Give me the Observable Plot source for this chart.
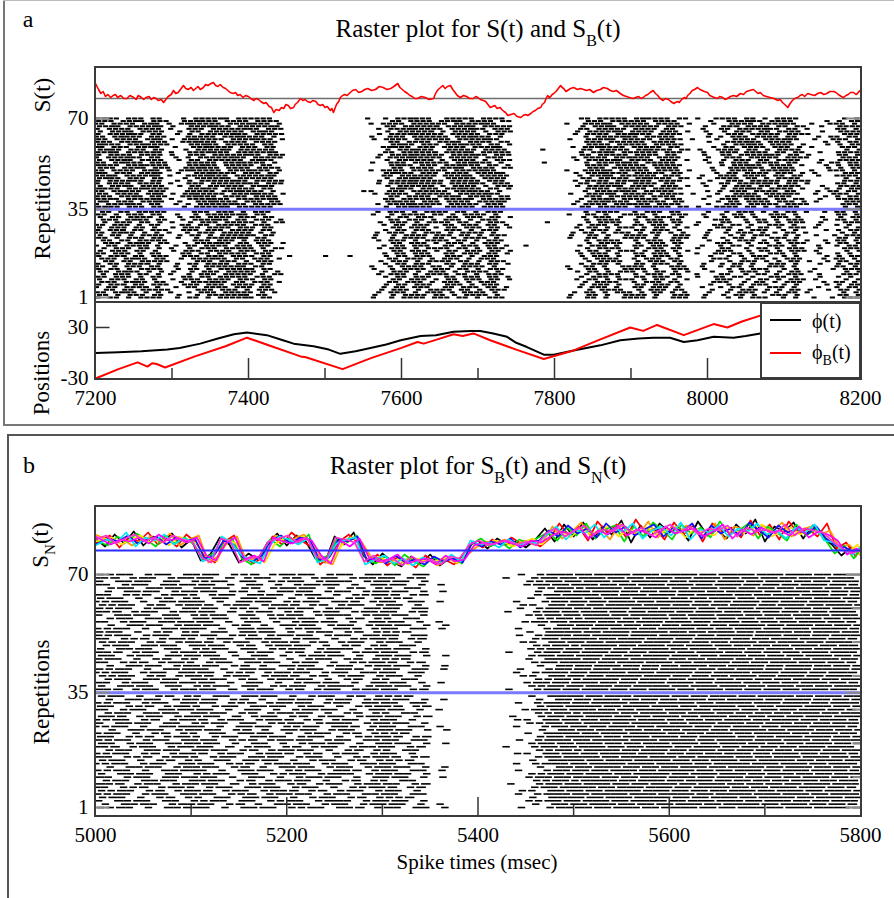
<!DOCTYPE html>
<html>
<head>
<meta charset="utf-8">
<script src="https://cdn.jsdelivr.net/npm/d3@7"></script>
<script src="https://cdn.jsdelivr.net/npm/@observablehq/plot@0.6"></script>
<style>
  html, body { margin: 0; padding: 0; background: #fff; }
  #root { position: relative; width: 894px; height: 898px; overflow: hidden; background: #fff;
          font-family: "Liberation Serif", "Times New Roman", serif; color: #000; }
  #root svg { font-family: "Liberation Serif", "Times New Roman", serif !important; font-size: 21px !important; }
  #root svg text { font-family: "Liberation Serif", "Times New Roman", serif !important; font-size: 21px !important; fill: #000; }
  .t { position: absolute; white-space: nowrap; line-height: 1; transform: translate(-50%, -50%); }
  .tl { position: absolute; white-space: nowrap; line-height: 1; transform: translate(0, -50%); }
  .rot { position: absolute; white-space: nowrap; line-height: 1; transform: translate(-50%, -50%) rotate(-90deg); }
  .box { position: absolute; box-sizing: border-box; }
</style>
</head>
<body>
<div id="root"></div>
<script>
// ---------------- DATA ----------------
// Panel a: x axis
const aXDomain = [7200, 8200];
const aXTicks = [7200, 7400, 7600, 7800, 8000, 8200];
const aXMajorInner = [7400, 7600, 7800, 8000];
const aXMinor = [7300, 7500, 7700, 7900, 8100];
const rowTicks = [1, 35, 70];
const rowMinorTicks = [10, 20, 30, 40, 50, 60];
const posTicks = [-30, 30];

// Panel a: S(t) (red), [time, level relative to grey reference line]
const sTrace = [[7200,15],[7204,9],[7207,5],[7210,7],[7213,2],[7216,4],[7220,1],[7223,3],[7226,4],[7229,1],[7233,3],[7237,0],[7241,0],[7245,3],[7250,1],[7253,-1],[7256,3],[7260,1],[7263,-1],[7266,1],[7270,2],[7273,-1],[7276,1],[7279,0],[7282,-2],[7286,-1],[7289,-4],[7292,-1],[7295,2],[7299,4],[7302,8],[7305,5],[7308,6],[7311,9],[7315,13],[7318,10],[7321,9],[7325,11],[7328,8],[7331,10],[7334,12],[7337,9],[7341,11],[7344,14],[7347,13],[7351,15],[7354,16],[7357,13],[7360,12],[7363,14],[7367,11],[7370,10],[7373,8],[7376,6],[7380,5],[7383,6],[7386,3],[7389,4],[7393,1],[7396,3],[7400,2],[7403,0],[7407,-2],[7410,0],[7413,-1],[7416,-3],[7420,-5],[7423,-4],[7427,-8],[7430,-9],[7433,-14],[7436,-11],[7440,-12],[7443,-9],[7446,-10],[7449,-6],[7452,-7],[7455,-10],[7459,-9],[7461,-6],[7464,-4],[7466,-2],[7468,0],[7471,-2],[7474,-1],[7477,-3],[7481,-4],[7484,-2],[7488,-3],[7491,-6],[7494,-7],[7497,-6],[7500,-9],[7503,-8],[7507,-12],[7509,-10],[7511,-14],[7513,-10],[7515,-6],[7518,-3],[7520,1],[7523,3],[7526,4],[7529,3],[7533,6],[7536,8],[7540,9],[7544,6],[7548,7],[7552,9],[7556,10],[7561,8],[7566,9],[7571,12],[7576,11],[7581,9],[7586,10],[7590,12],[7595,15],[7598,11],[7601,9],[7604,7],[7608,5],[7611,3],[7614,2],[7617,0],[7621,0],[7626,2],[7631,1],[7636,-1],[7642,0],[7644,4],[7646,7],[7648,9],[7651,11],[7654,13],[7657,10],[7660,12],[7664,13],[7667,9],[7670,6],[7673,3],[7677,1],[7681,3],[7685,2],[7689,0],[7694,0],[7697,2],[7700,1],[7703,-1],[7707,-2],[7710,-3],[7712,-5],[7714,-7],[7716,-9],[7719,-8],[7722,-7],[7725,-10],[7729,-9],[7731,-11],[7734,-13],[7736,-14],[7739,-17],[7743,-16],[7747,-15],[7751,-18],[7756,-19],[7759,-17],[7762,-16],[7765,-17],[7769,-15],[7772,-13],[7775,-12],[7778,-10],[7782,-9],[7784,-6],[7787,-4],[7789,0],[7791,3],[7793,1],[7795,2],[7797,4],[7799,5],[7802,7],[7804,9],[7806,11],[7808,13],[7810,11],[7812,10],[7815,7],[7817,8],[7821,10],[7825,11],[7830,9],[7834,10],[7838,9],[7842,8],[7846,9],[7851,6],[7855,8],[7860,9],[7864,11],[7869,10],[7873,8],[7877,7],[7881,8],[7886,5],[7890,3],[7894,2],[7898,1],[7903,0],[7906,1],[7910,2],[7913,0],[7916,1],[7919,3],[7922,4],[7925,6],[7929,8],[7932,5],[7935,3],[7938,0],[7942,-2],[7945,0],[7949,-1],[7952,-3],[7956,-5],[7958,-4],[7961,-3],[7963,-4],[7965,-2],[7968,0],[7970,1],[7972,0],[7974,3],[7977,5],[7980,8],[7983,9],[7987,11],[7990,9],[7993,8],[7996,7],[8000,6],[8003,3],[8006,2],[8009,1],[8013,0],[8016,2],[8020,1],[8023,-1],[8026,0],[8030,2],[8034,3],[8038,2],[8043,5],[8047,4],[8051,7],[8055,8],[8060,9],[8063,7],[8066,5],[8069,6],[8073,3],[8077,2],[8082,1],[8087,0],[8092,-2],[8095,-1],[8098,-4],[8101,-6],[8105,-9],[8108,-5],[8111,-2],[8114,0],[8118,1],[8121,3],[8124,4],[8127,2],[8131,5],[8135,4],[8140,3],[8144,5],[8148,6],[8152,4],[8156,5],[8160,7],[8165,7],[8168,6],[8171,4],[8175,2],[8178,1],[8181,3],[8184,4],[8187,6],[8191,6],[8194,4],[8196,5],[8198,7],[8200,8]];
const sReference = [0];
const sDomain = [-14, 31];

// Panel a: positions
const phiTrace = [[7200,0],[7230,1],[7260,2],[7294,4],[7310,6],[7337,11],[7360,17],[7381,22],[7398,24],[7424,21],[7445,15],[7459,11],[7485,8],[7505,4],[7520,-1],[7540,2],[7555,5],[7580,10],[7599,15],[7625,20],[7645,21],[7668,25],[7690,26],[7703,26],[7720,23],[7738,19],[7750,12],[7764,7],[7786,-2],[7799,-2],[7825,3],[7860,9],[7886,15],[7910,17],[7929,18],[7951,18],[7969,13],[7987,15],[8008,19],[8034,18],[8050,20],[8069,23],[8100,27],[8150,30],[8200,33]];
const phiBTrace = [[7200,-30],[7230,-19],[7255,-11],[7268,-16],[7274,-12],[7280,-13],[7291,-17],[7330,-4],[7370,8],[7398,18],[7430,8],[7468,-4],[7475,-5],[7523,-19],[7560,-6],[7600,6],[7621,13],[7629,11],[7647,16],[7668,22],[7680,20],[7694,23],[7716,15],[7750,4],[7786,-7],[7825,3],[7860,16],[7899,30],[7916,26],[7934,33],[7969,21],[8008,34],[8026,30],[8045,37],[8069,44],[8100,50],[8150,58]];
const posDomain = [-30, 59.4];

// Panel a raster: 8 ms slots; blocks start at these slot numbers
const aSlot = 8;
const aBlockStart = [0, 11, 15, 30, 31, 45, 56, 68, 77, 98, 102, 116, 121];
// lower half (S_B(t), rows 1-35): patterns 0-9; upper half (S(t), rows 36-70): patterns 10-19
const rasterAPatterns = [
  "#.##.###=.#|..#.|##.####.###.##.|||..#.##.###.|.##.###.##.#||..#.###.#..##.###.#..|.#..|#.##.#..###.#.|..#..|#.##",
  "##.#=##.#.#|.#..|#.###.#####.#.#|||.#.###.#.##|#.#.####.#..||.#.##.#.###.#.##.#.#.|..#.|.#.###.#.#.##.|#....|.#.#",
  ".###.#=##.#|#..#|.###=##.##.###.|#||...##.###.#|.###.#.###..||...#.####..#.###.##..|...#|##..#.##.#.###|...#.|##.#",
  "#.##.#.####|..#.|##.#.####=#.##.|||#..#.####.#|##.##.#.###.||#..##.#..####.#..###.|.#..|.#.#.###..#.#.|.#..#|.###",
  "##.###.#.##|...#|#.##.#####.###.|||..#.##.###.|.##.###.##.#||..#.###.#..##.###.#..|#..#|#.##.#..###.#.|..#..|#.#.",
  ".##.##.####|#...|.###.###.#.###.|||.#.###.#.##|##.##.#.###.||...#.####..#.###.##..|..#.|.#.###.#.#.##.|#..#.|##.#",
  "#.###.##.#.|.#.#|##.####.###.##.|||...##.###.#|.##.###.##.#||.#.##.#.###.#.##.#.#.|...#|##..#.##.#.###|.#...|.#.#",
  "##.#.###.##|..#.|.#.#####=#.##.|.||#..#.####.#|#.#.####.#..||#..##.#..####.#..###.|.#..|#.##.#..###.#.||##.#",
  "#.##=.##.##|#..#|##.###.####.##.|||..#.##.###.|.###.#.###..||..#.###.#..##.###.#..|..#.|.#.#.###..#.#.|...#.|#.##",
  ".#.###.##.#|.#..|#.###.#####.#.#|#||.#.###.#.##|##.##.#.###.||...#.####..#.###.##..|#...|##..#.##.#.###|..#..|.###",
  "##=#.####=#|.#..|###=###.#####=#|||..##.#####=|.###=#.#####||..#.##=#.######.###.|.#..|##=.####.##.##|..#..|####",
  "#.###=##.##|..#.|#.#####=##.####|#||.#.###=####|#.#####.###.||.#.####.##=###.####.|..#.|.###.#####.###|#....|.###",
  "=###.##=###|#...|##=##.#####.##.|||...#=##.###|.##=###.##.#||...####.#####.#####..||#.##=##.####.#|...#.|#.##",
  "##.####.#=#|.#.#|=#####.###=###.|#||#.####.####|##.####=##..||#..###=#.#####.####.#|...#|..####.###=##.|.#..#|##.#",
  "#=##.###.##|...#|.####=#.######.|||..#.##=###.|.#####.####.||..##.#####.#=####.##.|#..#|###.##.#.####.||.#.#",
  "#.##=#.####|..#.|##.######.#=##|.||..#.#####=|#.####.#.###||.#.####=#.####.###.#|.#..|#.###.##.####|..#..|####",
  "###.##=#.##|#..#|#=###.####.####|||...##.####|##=#.####.##||...###.######.####..|..#.|.###=##.####.|...#.|#.##",
  "#.####.####|.#..|###.#####=##.##|#||.#.###=####|#.###=##.###||..##.#####.####.##.|.#..|##.####=##.##.|#....|##.#",
  "=#.###.##=#|..#.|.##=####.###.##|||..#=###.###|.####.###=#.||.#.##=####.#####.##.|...#|.##.####.###.#|.#...|.###",
  "##.#=###.##|#...|#####.##=####.#|.||#..###.####|##.##=###.#.||...#.####=##.#####.|..#.|#.###.####.##|..#.#|#.##"
];
const rowPatternA = [3,7,1,5,0,8,2,6,4,9,1,3,7,0,5,2,8,4,6,9,0,2,5,7,3,1,8,6,4,9,2,0,7,5,3,
                     14,11,18,10,16,13,19,12,15,17,11,14,10,18,13,16,12,19,15,11,17,10,14,18,12,16,13,19,11,15,17,10,13,16,14];
const rowShiftA = [0,2,-1,3,-2,1,-3,2,0,-1,3,1,-2,0,2,-3,1,-1,3,0,-2,2,-1,1,3,-3,0,2,-2,1,-1,3,0,-2,2,
                   1,-2,3,0,-1,2,-3,1,3,-1,0,2,-2,1,-3,3,0,-1,2,-2,1,0,3,-3,2,-1,1,-2,0,3,-1,2,-3,1,0];
// isolated spikes in the silent gaps: [row, time]
const isolatedA = [[17,7451],[17,7498],[17,7530],[58,7782],[53,7784],[21,7760],[30,7788],[70,7553],[42,7548]];
const rowDomainA = [-0.93, 72.3];

// Panel b: x axis
const bXDomain = [5000, 5800];
const bXTicks = [5000, 5200, 5400, 5600, 5800];
const bXMajorInner = [5200, 5400, 5600];
const bXMinor = [5100, 5300, 5500, 5700];
const rowDomainB = [-1.36, 71.2];

// Panel b raster: 10 ms slots, groups of 100 ms ('#' full slot, '+' slot with short break, '.' empty)
const rasterBPatterns = [
  ["++#+.+#+.#","+#+.++#.+#","+#+.+#+.#+","#+.#+.....","....+.+##+","#+###+##+#","##+#+###+#","#+##+#+###"],
  ["+.#+#+.#+.","++#+.#+.++","#+.+##+.+#","+#+.+.....",".....++#+#","+##+#+###+","#+##+##+#+","##+#+#+##+"],
  ["#+.++#.+#+","+.+#+.#+#+",".+#+.+.++#","+#.+#.....","......+#+#","##+#+##+##","+#+###+#+#","+##+##+#+#"],
  ["++#+.+.#+#","#+.+.#+#+.","++#+.#+#.+","#+.#+.+...","....+..+#+","#+#+##+#+#","##+#+#+##+","#+##+###+#"],
  [".+#+.#+#+.","#+#+.+#.+#","+#+.+.+#.+","+.#+......","......++#+","+###+#+##+","#+##+#+#+#","+#+##+#+##"],
  ["+#+.+.+#.+","+.#+.#+#+.","+.+#+.+#.+","++#.......",".....+.###","+#+##+###+","#+#+##+#+#","##+#+##+#+"],
  ["#+#.+#+.+#","+#+.#.+#+.","+#.+#+.+#+","#+.+#.....","...+..+#+#","+##+#+#+##","+#+##+#+#+","#+#+##+##+"],
  [".+.#+#+.+#","+#+.+#.+.#","+#+.+#+.+#","+#+.+.+...","......+.#+","#+##+#+#+#","+##+#+###+","#+##+#+#+#"],
  ["++#+.+#.+#","+#.+#+.+#+","#.+#.+#+.+","#+.+......","....++.#+#","+#+###+##+","#+#+#+##+#","+##+#+##+#"],
  ["#+.+#+.#+#","+#+.+.#+.+",".+#+#+.+.#","+#+.+.+...",".....+#+#+","##+#+#+##+","##+#+##+#+","#+#+##+#+#"]
];
const rowPatternB = [3,7,1,5,0,8,2,6,4,9,1,3,7,0,5,2,8,4,6,9,0,2,5,7,3,1,8,6,4,9,2,0,7,5,3,
                     6,1,9,4,8,0,3,7,2,5,9,6,1,4,8,2,0,5,3,7,9,4,1,6,0,8,3,5,2,7,4,9,1,6,0];
const rowShiftB = [2,-3,0,4,-1,3,-4,1,-2,0,3,-1,2,-3,4,0,-2,1,-4,3,0,2,-1,4,-3,1,-2,3,0,-4,2,-1,1,3,-2,
                   -1,3,-2,0,4,-3,1,2,-4,0,3,-1,2,-2,4,-3,0,1,-1,3,-4,2,0,-2,1,4,-3,2,-1,0,3,-2,1,-4,2];

// Panel b: S_N(t) traces (10 ms steps, level relative to the blue reference line)
const snStep = 10;
const snBlack   = [12,4,16,7,19,5,14,9,17,3,11,-10,-4,13,6,-12,-3,-9,8,17,5,15,9,-8,-12,14,6,18,-5,-14,-3,-11,-16,-6,-13,-4,-15,-8,-10,4,10,2,12,6,9,3,11,22,9,26,14,28,11,24,16,30,8,25,13,27,18,23,10,29,15,21,12,26,17,31,9,24,19,28,12,25,14,6,-5,3,-2];
const snRed     = [7,15,3,13,9,18,6,12,4,16,8,-6,-12,9,15,-5,-13,-7,14,6,18,10,4,-14,-6,9,16,7,-12,-4,-15,-7,-10,-17,-5,-12,-9,-14,-3,9,3,11,5,13,7,10,4,12,27,15,24,10,29,18,26,13,31,17,22,11,28,16,25,9,27,19,23,13,30,15,26,11,29,17,22,14,27,2,8,-6,4];
const snOrange  = [16,8,12,5,10,14,8,17,5,11,15,-12,-6,8,14,-11,-7,-4,15,8,12,16,5,-11,-14,8,13,9,-6,-12,-10,-14,-7,-12,-9,-15,-7,-13,-5,3,9,7,11,5,10,6,9,24,12,19,28,14,22,11,26,20,16,29,13,22,17,25,20,14,27,11,24,21,15,25,19,28,14,21,24,16,20,3,6,-3,-5];
const snGreen   = [10,5,14,8,17,11,4,15,7,13,6,-9,-3,5,12,-8,-14,-4,11,4,13,7,16,-10,-5,12,8,15,-8,-13,-6,-15,-4,-11,-16,-7,-12,-5,-13,6,12,4,9,2,11,7,13,18,10,23,15,27,12,21,25,9,24,14,28,20,11,26,17,23,13,29,16,20,27,12,24,18,10,26,15,21,11,-3,5,-8,1];
const snYellow  = [9,13,6,11,15,8,12,5,14,10,7,-7,-11,11,7,-10,-6,-12,6,12,9,14,7,-7,-11,5,13,10,-9,-6,-12,-9,-14,-8,-11,-10,-6,-12,-7,7,5,10,8,4,8,12,6,15,20,13,22,17,19,25,14,21,18,23,16,20,24,13,22,18,15,24,20,17,22,26,14,19,23,16,21,18,13,4,-2,6,-4];
const snBlue    = [6,12,9,15,7,11,14,6,13,9,12,-8,-5,10,6,-7,-11,-5,10,15,7,13,11,-9,-7,11,9,14,-10,-7,-13,-5,-12,-9,-14,-6,-11,-8,-12,8,4,9,6,12,3,8,10,20,14,25,17,22,13,27,18,24,15,21,26,14,23,19,27,12,25,17,22,15,28,20,13,25,18,22,16,24,12,5,3,-2,2];
const snCyan    = [5,11,8,18,4,13,10,16,6,12,9,-11,-7,14,8,-4,-10,-13,5,14,11,6,12,-12,-9,7,11,13,-14,-9,-5,-13,-8,-15,-7,-10,-13,-4,-11,10,6,8,3,11,5,9,7,16,24,11,21,17,26,13,22,19,27,12,20,24,15,28,11,21,18,25,14,22,19,27,16,20,12,23,18,26,10,8,0,-4,3];
const snMagenta = [14,6,11,9,13,7,16,10,12,8,13,-5,-10,7,13,-9,-5,-11,13,9,7,12,10,-5,-13,10,4,12,-7,-11,-9,-4,-13,-10,-8,-14,-5,-11,-9,5,8,6,10,7,4,10,8,14,19,17,23,12,20,16,25,15,21,18,13,24,17,20,22,14,19,26,12,21,16,23,18,20,15,24,13,19,16,10,-4,2,-1];
const snPink    = [11,15,7,12,16,9,13,8,15,11,9,-7,-12,12,9,-12,-8,-6,9,12,15,8,13,-6,-10,13,11,8,-11,-5,-12,-8,-15,-6,-12,-9,-14,-6,-8,6,10,5,8,10,6,9,5,17,22,14,20,25,16,21,19,26,17,23,15,21,26,18,24,16,22,20,25,14,23,19,21,17,26,15,22,20,18,9,2,-3,1];
const snSeries = [snBlack, snRed, snOrange, snGreen, snYellow, snBlue, snCyan, snMagenta, snPink];
const snColors = ["#000000", "#ff0000", "#ff9900", "#00dd00", "#ffe000", "#1010ff", "#00e5ff", "#ff00ff", "#ff30d0"];
const snOffsets = [0, 5, 8, 3, 7, 4, 2, 6, 1];
const snReference = [0];
const snDomain = [-20, 44];

// ---------------- BUILD ----------------
const root = document.getElementById("root");
function place(el, left, top) {
  el.style.position = "absolute";
  el.style.left = left + "px";
  el.style.top = top + "px";
  root.appendChild(el);
  return el;
}
function div(cls, html, css) {
  const d = document.createElement("div");
  d.className = cls;
  d.innerHTML = html;
  Object.assign(d.style, css);
  root.appendChild(d);
  return d;
}
const svgStyle = {background: "transparent", overflow: "visible", color: "#000"};
const fmt = d => String(d);

// raster A spikes
const spikesA = [];
for (let r = 1; r <= 70; r++) {
  const pat = rasterAPatterns[rowPatternA[r - 1]];
  const sh = rowShiftA[r - 1];
  pat.split("|").forEach((blk, k) => {
    for (let j = 0; j < blk.length; j++) {
      const c = blk[j];
      if (c === ".") continue;
      const t = aXDomain[0] + (aBlockStart[k] + j) * aSlot + sh;
      let t1 = t + 0.5, t2 = t + (c === "=" ? aSlot + 0.5 : 7.3);
      t1 = Math.max(t1, aXDomain[0]); t2 = Math.min(t2, aXDomain[1]);
      if (t2 > t1) spikesA.push({row: r, t1, t2});
    }
  });
}
for (const [r, t] of isolatedA) spikesA.push({row: r, t1: t, t2: t + 6.8});

// raster B spikes
const spikesB = [];
for (let r = 1; r <= 70; r++) {
  const pat = rasterBPatterns[rowPatternB[r - 1]];
  const sh = rowShiftB[r - 1];
  pat.forEach((grp, g) => {
    for (let j = 0; j < grp.length; j++) {
      const c = grp[j];
      if (c === ".") continue;
      const t = bXDomain[0] + (g * 10 + j) * 10 + sh;
      let t1 = t, t2 = t + (c === "#" ? 10 : 7.8);
      t1 = Math.max(t1, bXDomain[0]); t2 = Math.min(t2, bXDomain[1]);
      if (t2 > t1) spikesB.push({row: r, t1, t2});
    }
  });
}

// ---- Panel a ----
place(Plot.plot({
  width: 839, height: 190, marginLeft: 40, marginRight: 34, marginTop: 0, marginBottom: 0,
  style: svgStyle,
  x: {domain: aXDomain, axis: null},
  y: {domain: rowDomainA, ticks: rowTicks, tickSize: 0, tickPadding: 7, tickFormat: fmt, label: null},
  marks: [
    Plot.ruleY(spikesA, {y: "row", x1: "t1", x2: "t2", stroke: "#000", strokeWidth: 2}),
    Plot.ruleY([35], {stroke: "#7a7aff", strokeWidth: 3}),
    Plot.ruleY(rowTicks, {x1: aXDomain[0], x2: aXDomain[0] + 19, stroke: "#8a8a8a", strokeWidth: 2}),
    Plot.ruleY(rowTicks, {x1: aXDomain[1] - 19, x2: aXDomain[1], stroke: "#8a8a8a", strokeWidth: 2})
  ]
}), 55, 112);

place(Plot.plot({
  width: 765, height: 45, margin: 0,
  style: svgStyle,
  x: {domain: aXDomain, axis: null},
  y: {domain: sDomain, axis: null},
  marks: [
    Plot.ruleY(sReference, {stroke: "#6e6e6e", strokeWidth: 1.6}),
    Plot.line(sTrace, {x: d => d[0], y: d => d[1], stroke: "#ff0000", strokeWidth: 1.6})
  ]
}), 95, 67);

place(Plot.plot({
  width: 839, height: 116, marginLeft: 40, marginRight: 34, marginTop: 0, marginBottom: 40,
  style: svgStyle,
  x: {domain: aXDomain, ticks: aXTicks, tickSize: 0, tickPadding: 12, tickFormat: fmt, label: null},
  y: {domain: posDomain, ticks: posTicks, tickSize: 0, tickPadding: 7, tickFormat: fmt, label: null},
  marks: [
    Plot.ruleX(aXMajorInner, {y1: posDomain[0], y2: posDomain[0] + 23.5, stroke: "#333", strokeWidth: 1.5}),
    Plot.ruleX(aXMinor, {y1: posDomain[0], y2: posDomain[0] + 11.8, stroke: "#333", strokeWidth: 1.5}),
    Plot.ruleY([30], {x1: aXDomain[0], x2: aXDomain[0] + 19, stroke: "#333", strokeWidth: 1.5}),
    Plot.line(phiTrace, {x: d => d[0], y: d => d[1], stroke: "#000", strokeWidth: 2}),
    Plot.line(phiBTrace, {x: d => d[0], y: d => d[1], stroke: "#ff0000", strokeWidth: 2})
  ]
}), 55, 302);

// ---- Panel b ----
const snData = snSeries.map((vals, s) => vals.map((v, i) => ({
  t: (i === 0) ? bXDomain[0] : Math.min(bXDomain[1], bXDomain[0] + i * snStep + snOffsets[s] * (i === vals.length - 1 ? 0 : 1)),
  v
})));
place(Plot.plot({
  width: 765, height: 64, margin: 0,
  style: svgStyle,
  x: {domain: bXDomain, axis: null},
  y: {domain: snDomain, axis: null},
  marks: [
    ...snData.map((d, s) => Plot.line(d, {x: "t", y: "v", stroke: snColors[s], strokeWidth: 1.7})),
    Plot.ruleY(snReference, {stroke: "#2a2aff", strokeWidth: 2})
  ]
}), 95, 506);

place(Plot.plot({
  width: 839, height: 285, marginLeft: 40, marginRight: 34, marginTop: 0, marginBottom: 40,
  style: svgStyle,
  x: {domain: bXDomain, ticks: bXTicks, tickSize: 0, tickPadding: 12, tickFormat: fmt, label: null},
  y: {domain: rowDomainB, ticks: rowTicks, tickSize: 0, tickPadding: 7, tickFormat: fmt, label: null},
  marks: [
    Plot.ruleY(spikesB, {y: "row", x1: "t1", x2: "t2", stroke: "#000", strokeWidth: 1.6}),
    Plot.ruleY([35], {stroke: "#7a7aff", strokeWidth: 3}),
    Plot.ruleY(rowTicks, {x1: bXDomain[0], x2: bXDomain[0] + 15, stroke: "#8a8a8a", strokeWidth: 2}),
    Plot.ruleY(rowTicks, {x1: bXDomain[1] - 15, x2: bXDomain[1], stroke: "#8a8a8a", strokeWidth: 2}),
    Plot.ruleY(rowMinorTicks, {x1: bXDomain[1] - 8, x2: bXDomain[1], stroke: "#8a8a8a", strokeWidth: 2}),
    Plot.ruleX(bXMajorInner, {y1: rowDomainB[0], y2: rowDomainB[0] + 5.3, stroke: "#333", strokeWidth: 1.5}),
    Plot.ruleX(bXMinor, {y1: rowDomainB[0], y2: rowDomainB[0] + 2.95, stroke: "#333", strokeWidth: 1.5})
  ]
}), 55, 570);

// ---- frames & decorations ----
div("box", "", {left: "94px", top: "66px", width: "768px", height: "314px", border: "2px solid #3a3a3a"});
div("box", "", {left: "95px", top: "301px", width: "766px", height: "2px", background: "#3a3a3a"});
div("box", "", {left: "94px", top: "505px", width: "768px", height: "312px", border: "2px solid #3a3a3a"});
// legend
div("box", "", {left: "760px", top: "302px", width: "101px", height: "77px", border: "2px solid #3a3a3a", background: "#fff"});
div("box", "", {left: "770px", top: "319px", width: "31px", height: "2px", background: "#000"});
div("box", "", {left: "770px", top: "352px", width: "31px", height: "2px", background: "#ff0000"});
div("tl", "&#981;(t)", {left: "812px", top: "321px", fontSize: "20px"});
div("tl", '&#981;<span style="font-size:14px;position:relative;top:6px">B</span>(t)', {left: "812px", top: "352px", fontSize: "20px"});

// panel borders
div("box", "", {left: "3px", top: "0px", width: "2px", height: "426px", background: "#777"});
div("box", "", {left: "3px", top: "424px", width: "891px", height: "2px", background: "#777"});
div("box", "", {left: "3px", top: "0px", width: "891px", height: "1px", background: "#bbb"});
div("box", "", {left: "8px", top: "434px", width: "886px", height: "2px", background: "#555"});
div("box", "", {left: "7px", top: "434px", width: "2px", height: "464px", background: "#555"});

// texts
div("t", "a", {left: "28px", top: "19px", fontSize: "24px"});
div("t", "b", {left: "29px", top: "465px", fontSize: "24px"});
div("t", 'Raster plot for S(t) and S<span style="font-size:16px;position:relative;top:9px">B</span>(t)', {left: "478px", top: "28px", fontSize: "25px"});
div("t", 'Raster plot for S<span style="font-size:16px;position:relative;top:9px">B</span>(t) and S<span style="font-size:16px;position:relative;top:9px">N</span>(t)', {left: "478px", top: "465px", fontSize: "25px"});
div("rot", "S(t)", {left: "42px", top: "95px", fontSize: "23px"});
div("rot", "Repetitions", {left: "42px", top: "207px", fontSize: "23px"});
div("rot", "Positions", {left: "41px", top: "373px", fontSize: "23px"});
div("rot", 'S<span style="font-size:15px;position:relative;top:7px">N</span>(t)', {left: "40px", top: "545px", fontSize: "23px"});
div("rot", "Repetitions", {left: "41px", top: "692px", fontSize: "23px"});
div("t", "Spike times (msec)", {left: "477px", top: "862px", fontSize: "21px"});
</script>
</body>
</html>
